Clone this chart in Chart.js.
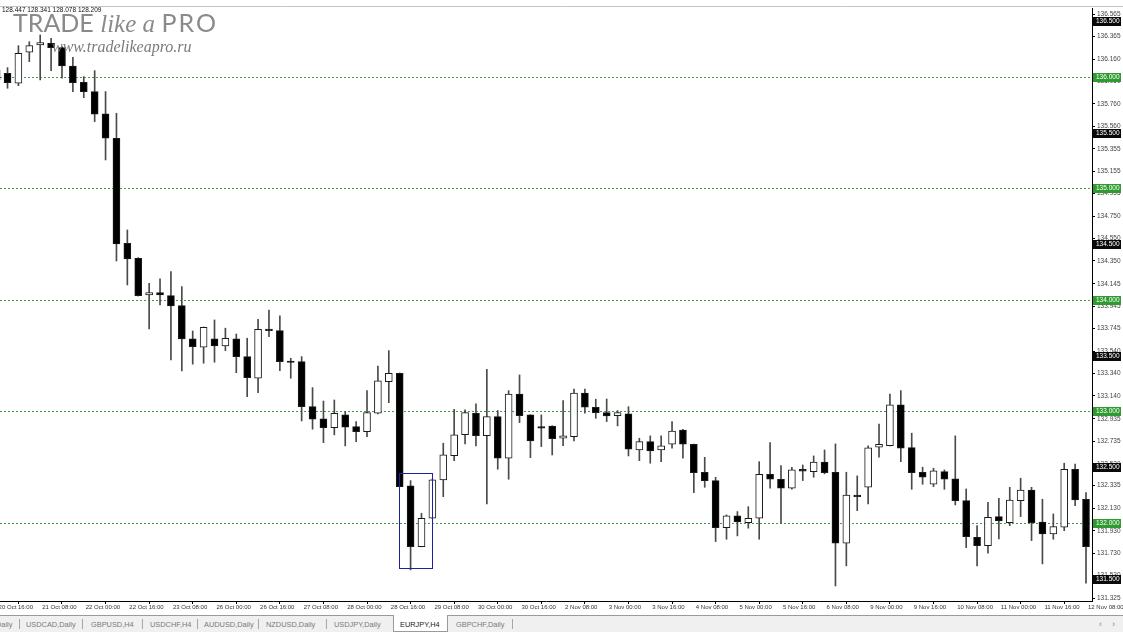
<!DOCTYPE html>
<html>
<head>
<meta charset="utf-8">
<script src="https://cdn.jsdelivr.net/npm/chart.js@4.4.0/dist/chart.umd.min.js"></script>
<style>
  body { margin: 0; background: #fff; }
  #wrap { position: relative; width: 1123px; height: 632px; overflow: hidden; font-family: "Liberation Sans", Arial, sans-serif; }
  #chart { position: absolute; left: 0; top: 0; }
  #head { position: absolute; left: 2px; top: 7px; font-size: 6.5px; color: #111; line-height: 1; }
  .wm { position: absolute; color: #8a8a8a; line-height: 1; white-space: nowrap; pointer-events: none; }
  #wm1 { left: 13px; top: 9.5px; font-family: Lato, "Liberation Sans", sans-serif; font-weight: 400; font-size: 25px; }
  #wm1 i { font-family: "Liberation Serif", serif; font-size: 25px; font-weight: normal; }
  #wm1 .pro { letter-spacing: 2px; }
  #wm2 { left: 52px; top: 38.5px; font-family: "Liberation Serif", serif; font-style: italic; font-size: 16px; color: #7a7a7a; }
  #tabs { position: absolute; left: 0; top: 615px; width: 1123px; height: 17px; background: #f0f0f0; border-top: 1px solid #9a9a9a; font-size: 7.4px; color: #7a7a7a; }
  .tab { position: absolute; top: 4px; white-space: nowrap; }
  .sep { position: absolute; top: 3px; width: 1px; height: 10px; background: #a8a8a8; }
  .active { position: absolute; top: -1px; left: 393px; width: 53px; height: 16px; background: #fff; border: 1px solid #9a9a9a; border-top: none; }
  .nav { position: absolute; top: 3px; font-size: 9px; color: #8a8a8a; }
</style>
</head>
<body>
<div id="wrap">
  <canvas id="chart" width="1123" height="615"></canvas>
  <div id="head">128.447 128.341 128.078 128.209</div>
  <div class="wm" id="wm1">TRADE <i>like a</i> <span class="pro">PRO</span></div>
  <div class="wm" id="wm2">www.tradelikeapro.ru</div>
  <div id="tabs">
    <span class="tab" style="left:-4px">Daily</span>
    <span class="sep" style="left:19px"></span>
    <span class="tab" style="left:26px">USDCAD,Daily</span>
    <span class="sep" style="left:82px"></span>
    <span class="tab" style="left:91px">GBPUSD,H4</span>
    <span class="sep" style="left:142px"></span>
    <span class="tab" style="left:150px">USDCHF,H4</span>
    <span class="sep" style="left:197px"></span>
    <span class="tab" style="left:204px">AUDUSD,Daily</span>
    <span class="sep" style="left:258px"></span>
    <span class="tab" style="left:266px">NZDUSD,Daily</span>
    <span class="sep" style="left:326px"></span>
    <span class="tab" style="left:334px">USDJPY,Daily</span>
    <span class="active"></span>
    <span class="tab" style="left:400px;color:#222">EURJPY,H4</span>
    <span class="tab" style="left:456px">GBPCHF,Daily</span>
    <span class="sep" style="left:512px"></span>
    <span class="nav" style="left:1099px">&lsaquo;</span>
    <span class="nav" style="left:1112px">&rsaquo;</span>
  </div>
</div>
<script>
// EURJPY H4, bars 0..100 (20 Oct 16:00 .. 12 Nov 08:00)
const opens = [135.973, 136.034, 135.944, 136.222, 136.287, 136.303, 136.263, 136.099, 135.953, 135.869,
  135.669, 135.451, 134.509, 134.374, 134.045, 134.066, 134.039, 133.949, 133.651, 133.576,
  133.651, 133.588, 133.651, 133.492, 133.298, 133.740, 133.725, 133.453, 133.447, 133.043,
  132.933, 132.855, 132.969, 132.864, 132.819, 132.984, 133.267, 133.343, 132.332, 131.788,
  132.042, 132.386, 132.604, 132.792, 132.984, 132.783, 132.954, 132.581, 133.157, 132.969,
  132.864, 132.870, 132.760, 132.774, 133.164, 133.038, 132.990, 132.963, 132.978, 132.655,
  132.729, 132.655, 132.706, 132.834, 132.706, 132.455, 132.380, 131.958, 132.063, 132.003,
  132.042, 132.437, 132.392, 132.311, 132.482, 132.460, 132.545, 132.455, 131.818, 132.251,
  132.320, 132.679, 132.694, 133.059, 132.676, 132.455, 132.347, 132.460, 132.395, 132.200,
  131.872, 131.797, 132.057, 132.003, 132.200, 132.296, 132.007, 131.902, 131.962, 132.482,
  132.213];
const highs = [136.099, 136.084, 136.281, 136.317, 136.377, 136.348, 136.272, 136.177, 136.003, 136.057,
  135.869, 135.675, 134.628, 134.380, 134.150, 134.189, 134.254, 134.120, 133.722, 133.758,
  133.821, 133.747, 133.695, 133.657, 133.827, 133.910, 133.857, 133.477, 133.492, 133.214,
  133.094, 133.103, 132.999, 132.909, 133.187, 133.408, 133.546, 133.345, 132.380, 132.087,
  132.395, 132.715, 133.020, 133.014, 133.068, 133.379, 133.008, 133.187, 133.328, 132.972,
  132.969, 132.872, 133.097, 133.200, 133.200, 133.110, 133.112, 133.008, 133.043, 132.760,
  132.781, 132.781, 132.909, 132.840, 132.708, 132.589, 132.410, 132.072, 132.102, 132.146,
  132.550, 132.720, 132.514, 132.500, 132.520, 132.601, 132.655, 132.709, 132.455, 132.422,
  132.691, 132.888, 133.157, 133.187, 132.805, 132.500, 132.491, 132.476, 132.781, 132.305,
  131.976, 132.186, 132.222, 132.320, 132.401, 132.320, 132.213, 132.081, 132.536, 132.529,
  132.272];
const lows = [135.938, 135.899, 135.922, 136.138, 135.974, 136.057, 135.989, 135.869, 135.815, 135.600,
  135.256, 134.350, 134.135, 134.035, 133.740, 133.955, 133.462, 133.364, 133.424, 133.433,
  133.442, 133.546, 133.348, 133.133, 133.169, 133.671, 133.366, 133.298, 132.915, 132.841,
  132.720, 132.790, 132.691, 132.729, 132.774, 132.978, 133.079, 132.324, 131.579, 131.786,
  132.040, 132.236, 132.559, 132.709, 132.691, 132.171, 132.482, 132.392, 132.900, 132.586,
  132.685, 132.610, 132.694, 132.736, 132.984, 132.939, 132.909, 132.870, 132.601, 132.559,
  132.536, 132.550, 132.670, 132.581, 132.272, 132.320, 131.833, 131.854, 131.884, 131.953,
  131.854, 132.311, 131.997, 132.302, 132.380, 132.410, 132.440, 131.435, 131.615, 132.110,
  132.171, 132.589, 132.692, 132.550, 132.302, 132.347, 132.326, 132.302, 132.162, 131.779,
  131.615, 131.728, 131.857, 131.976, 132.057, 131.842, 131.633, 131.854, 131.931, 132.155,
  131.459];
const closes = [136.063, 135.949, 136.213, 136.281, 136.308, 136.263, 136.099, 135.949, 135.869, 135.666,
  135.451, 134.503, 134.368, 134.039, 134.066, 134.045, 133.946, 133.651, 133.581, 133.755,
  133.588, 133.657, 133.492, 133.303, 133.737, 133.725, 133.447, 133.441, 133.043, 132.930,
  132.855, 132.984, 132.859, 132.819, 132.990, 133.274, 133.343, 132.326, 131.788, 132.042,
  132.386, 132.610, 132.790, 132.990, 132.783, 132.954, 132.581, 133.155, 132.963, 132.736,
  132.850, 132.757, 132.781, 133.164, 133.038, 132.990, 132.960, 132.990, 132.661, 132.729,
  132.646, 132.691, 132.825, 132.706, 132.451, 132.380, 131.958, 132.063, 132.009, 132.042,
  132.437, 132.392, 132.311, 132.476, 132.464, 132.545, 132.451, 131.818, 132.251, 132.236,
  132.673, 132.706, 133.059, 132.670, 132.451, 132.410, 132.467, 132.392, 132.200, 131.877,
  131.797, 132.051, 132.018, 132.206, 132.296, 132.003, 131.902, 131.967, 132.482, 132.206,
  131.788];

const xTickBars = [0, 4, 8, 12, 16, 20, 24, 28, 32, 36, 40, 44, 48, 52, 56, 60, 64, 68, 72, 76, 80, 84, 88, 92, 96, 100];
const xLabels = ["20 Oct 16:00", "21 Oct 08:00", "22 Oct 00:00", "22 Oct 16:00", "23 Oct 08:00", "26 Oct 00:00",
  "26 Oct 16:00", "27 Oct 08:00", "28 Oct 00:00", "28 Oct 16:00", "29 Oct 08:00", "30 Oct 00:00", "30 Oct 16:00",
  "2 Nov 08:00", "3 Nov 00:00", "3 Nov 16:00", "4 Nov 08:00", "5 Nov 00:00", "5 Nov 16:00", "6 Nov 08:00",
  "9 Nov 00:00", "9 Nov 16:00", "10 Nov 08:00", "11 Nov 00:00", "11 Nov 16:00", "12 Nov 08:00"];
const yTicks = [136.565, 136.365, 136.160, 135.960, 135.760, 135.560, 135.355, 135.155, 134.955, 134.750,
  134.550, 134.350, 134.145, 133.945, 133.745, 133.540, 133.340, 133.140, 132.935, 132.735, 132.530,
  132.335, 132.130, 131.930, 131.730, 131.530, 131.325];
const greenLevels = [136.0, 135.0, 134.0, 133.0, 132.0];
const blackLevels = [136.5, 135.5, 134.5, 133.5, 132.5, 131.5];
// rectangle object: [bar from, bar to, price top, price bottom]
const boxObj = [36.95, 40.0, 132.446, 131.594];

const bodies = opens.map((o, i) => ({ x: i, y: [o, closes[i]] }));
const wicks = lows.map((l, i) => ({ x: i, y: [l, highs[i]] }));

const overlay = {
  id: "overlay",
  beforeDatasetsDraw(chart) {
    const { ctx, chartArea, scales } = chart;
    ctx.save();
    ctx.strokeStyle = "#4a984a";
    ctx.lineWidth = 1;
    ctx.setLineDash([2, 2]);
    greenLevels.forEach((v) => {
      let py = Math.round(scales.y.getPixelForValue(v)) + 0.5;
      ctx.beginPath();
      ctx.moveTo(chartArea.left, py);
      ctx.lineTo(chartArea.right, py);
      ctx.stroke();
    });
    ctx.restore();
  },
  afterDatasetsDraw(chart) {
    const { ctx, scales } = chart;
    let x1 = Math.round(scales.x.getPixelForValue(boxObj[0])) + 0.5;
    let x2 = Math.round(scales.x.getPixelForValue(boxObj[1])) + 0.5;
    let y1 = Math.round(scales.y.getPixelForValue(boxObj[2])) + 0.5;
    let y2 = Math.round(scales.y.getPixelForValue(boxObj[3])) + 0.5;
    ctx.save();
    ctx.strokeStyle = "#1f1fa0";
    ctx.lineWidth = 1;
    ctx.strokeRect(x1, y1, x2 - x1, y2 - y1);
    ctx.restore();
  },
  afterDraw(chart) {
    const { ctx, scales, chartArea } = chart;
    ctx.save();
    // top frame line
    ctx.strokeStyle = "#c4c4c4";
    ctx.beginPath();
    ctx.moveTo(0, 6.5);
    ctx.lineTo(1123, 6.5);
    ctx.stroke();
    ctx.font = "6.5px 'Liberation Sans'";
    ctx.textBaseline = "middle";
    const tag = (v, bg) => {
      let py = Math.round(scales.y.getPixelForValue(v));
      ctx.fillStyle = bg;
      ctx.fillRect(chartArea.right + 1, py - 4, 28, 9);
      ctx.fillStyle = "#fff";
      ctx.fillText(v.toFixed(3), chartArea.right + 4, py + 0.5);
    };
    greenLevels.forEach((v) => tag(v, "#2f9a2f"));
    blackLevels.forEach((v) => tag(v, "#0a0a0a"));
    ctx.restore();
  },
};

new Chart(document.getElementById("chart"), {
  type: "bar",
  data: {
    datasets: [
      {
        data: bodies,
        order: 0,
        grouped: false,
        barThickness: 7,
        borderWidth: 1,
        borderSkipped: false,
        borderColor: "#1a1a1a",
        backgroundColor: (c) => (closes[c.dataIndex] > opens[c.dataIndex] ? "#ffffff" : "#000000"),
      },
      {
        data: wicks,
        order: 1,
        grouped: false,
        barThickness: 1,
        borderWidth: 0,
        backgroundColor: "#4a4a4a",
      },
    ],
  },
  options: {
    responsive: false,
    devicePixelRatio: 1,
    animation: false,
    layout: { autoPadding: false, padding: { top: 8, left: 0, right: 0, bottom: 0 } },
    plugins: { legend: { display: false }, tooltip: { enabled: false } },
    scales: {
      x: {
        type: "linear",
        min: 0.31,
        max: 100.55,
        offset: false,
        grid: { drawOnChartArea: false, drawTicks: true, tickLength: 3, color: "#000" },
        border: { display: true, color: "#000", width: 1 },
        afterBuildTicks: (s) => { s.ticks = xTickBars.map((v) => ({ value: v })); },
        afterFit: (s) => { s.height = 14; s.paddingLeft = 0; s.paddingRight = 0; },
        ticks: {
          autoSkip: false,
          maxRotation: 0,
          align: "start",
          labelOffset: 2,
          padding: 0,
          color: "#333",
          font: { family: "Liberation Sans", size: 6 },
          callback: (v, i) => xLabels[i],
        },
      },
      y: {
        type: "linear",
        position: "right",
        min: 131.3,
        max: 136.619,
        grid: { drawOnChartArea: false, drawTicks: true, tickLength: 3, color: "#000" },
        border: { display: true, color: "#000", width: 1 },
        afterBuildTicks: (s) => { s.ticks = yTicks.map((v) => ({ value: v })); },
        afterFit: (s) => { s.width = 31; },
        ticks: {
          autoSkip: false,
          padding: 2,
          color: "#444",
          font: { family: "Liberation Sans", size: 6.5 },
          callback: (v) => v.toFixed(3),
        },
      },
    },
  },
  plugins: [overlay],
});
</script>
</body>
</html>
